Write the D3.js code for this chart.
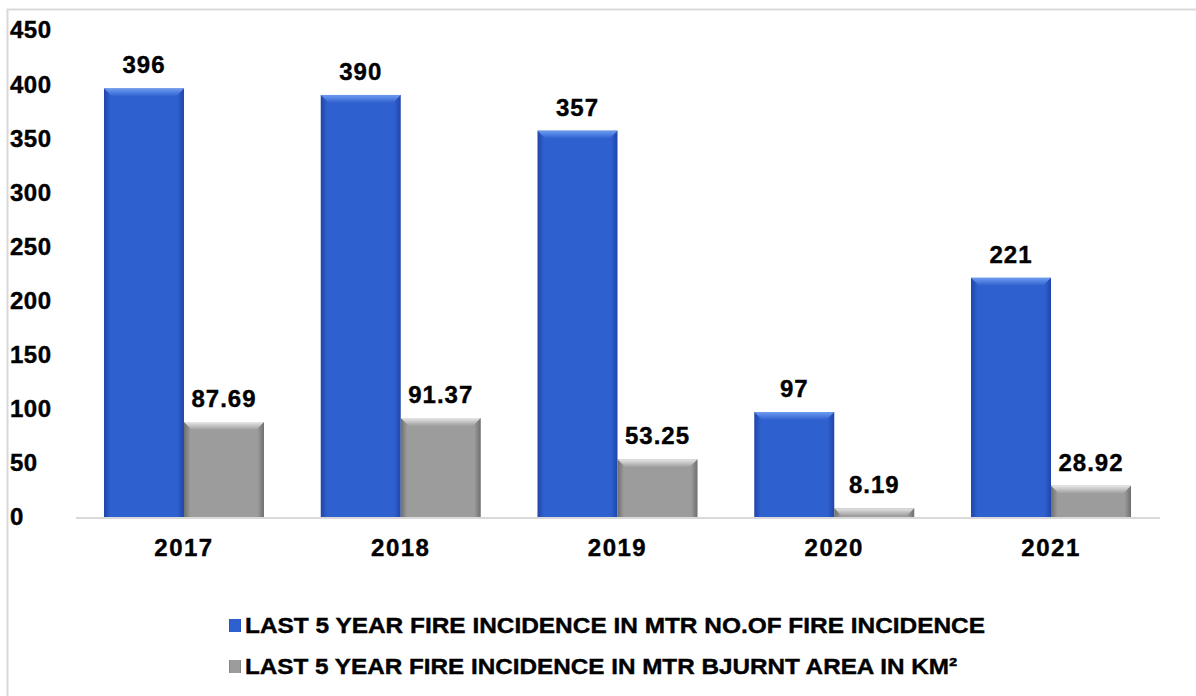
<!DOCTYPE html>
<html>
<head>
<meta charset="utf-8">
<script src="https://cdn.jsdelivr.net/npm/d3@7"></script>
<style>
  body { margin: 0; background: #fff; }
  text { font-family: "Liberation Sans", Arial, sans-serif; font-weight: bold; fill: #000; stroke: #000; stroke-width: 0.4px; }
</style>
</head>
<body>
<svg id="chart" width="1196" height="696"></svg>
<script>
var years = ["2017", "2018", "2019", "2020", "2021"];
var fireCount = [396, 390, 357, 97, 221];
var burntArea = [87.69, 91.37, 53.25, 8.19, 28.92];
var yTicks = [0, 50, 100, 150, 200, 250, 300, 350, 400, 450];
var seriesNames = ["LAST 5 YEAR FIRE INCIDENCE IN MTR NO.OF FIRE INCIDENCE",
                   "LAST 5 YEAR FIRE INCIDENCE IN MTR BJURNT AREA IN KM\u00B2"];
var seriesLabels = [fireCount.map(String), burntArea.map(function (d) { return d.toFixed(2); })];

var svg = d3.select("#chart");

// outer frame
svg.append("rect")
    .attr("x", 7.5).attr("y", 9.5)
    .attr("width", 1220).attr("height", 720)
    .attr("fill", "none").attr("stroke", "#d9d9d9").attr("stroke-width", 2);

var defs = svg.append("defs");
function bevel(id, mid, dark, light) {
    var g = defs.append("linearGradient").attr("id", id)
        .attr("x1", 0).attr("x2", 1).attr("y1", 0).attr("y2", 0);
    g.append("stop").attr("offset", "0%").attr("stop-color", dark);
    g.append("stop").attr("offset", "8%").attr("stop-color", mid);
    g.append("stop").attr("offset", "92%").attr("stop-color", mid);
    g.append("stop").attr("offset", "100%").attr("stop-color", dark);
    var t = defs.append("linearGradient").attr("id", id + "top")
        .attr("x1", 0).attr("x2", 0).attr("y1", 0).attr("y2", 1);
    t.append("stop").attr("offset", "0%").attr("stop-color", light);
    t.append("stop").attr("offset", "100%").attr("stop-color", mid);
}
bevel("blueG", "#2f60cf", "#1f45a8", "#6d9cf0");
bevel("grayG", "#9c9c9c", "#6e6e6e", "#e6e6e6");
var fills = ["blueG", "grayG"];

var x = d3.scaleBand().domain(years).range([75.6, 1159.4]).padding(0);
var y = d3.scaleLinear().domain([0, 450]).range([517, 30]);
var barW = 80;

// y tick labels
svg.append("g").selectAll("text")
    .data(yTicks).enter().append("text")
    .attr("x", 10).attr("y", function (d) { return y(d); })
    .attr("dy", "0.35em")
    .style("font-size", "24px")
    .style("letter-spacing", "0.5px")
    .text(function (d) { return d; });

// baseline
svg.append("line")
    .attr("x1", 76).attr("x2", 1160)
    .attr("y1", y(0) + 1).attr("y2", y(0) + 1)
    .attr("stroke", "#d9d9d9").attr("stroke-width", 2);

// x axis
var xAxis = svg.append("g")
    .attr("transform", "translate(0," + (y(0) + 1) + ")")
    .call(d3.axisBottom(x).tickSize(0).tickPadding(21));
xAxis.select(".domain").remove();
xAxis.selectAll("text")
    .style("font-size", "24px")
    .style("letter-spacing", "1.5px")
    .style("font-family", "Liberation Sans, Arial, sans-serif")
    .style("font-weight", "bold")
    .attr("fill", "#000").attr("stroke", "#000").attr("stroke-width", 0.4);

[fireCount, burntArea].forEach(function (vals, s) {
    var g = svg.append("g");
    var bx = function (d, i) { return x(years[i]) + x.bandwidth() / 2 - barW + s * barW; };
    g.selectAll("rect.bar").data(vals).enter().append("rect")
        .attr("class", "bar")
        .attr("x", bx)
        .attr("y", function (d) { return y(d); })
        .attr("width", barW)
        .attr("height", function (d) { return y(0) - y(d); })
        .attr("fill", "url(#" + fills[s] + ")");
    // top bevel
    g.selectAll("path.top").data(vals).enter().append("path")
        .attr("class", "top")
        .attr("d", function (d, i) {
            var x0 = bx(d, i), y0 = y(d), h = Math.min(8, y(0) - y(d));
            return "M" + x0 + "," + y0 + "H" + (x0 + barW) + "L" + (x0 + barW - h) + "," + (y0 + h) +
                "H" + (x0 + h) + "Z";
        })
        .attr("fill", "url(#" + fills[s] + "top)");
    g.selectAll("text").data(vals).enter().append("text")
        .attr("x", function (d, i) { return bx(d, i) + barW / 2; })
        .attr("y", function (d) { return y(d) - 15; })
        .attr("text-anchor", "middle")
        .style("font-size", "24px")
        .style("letter-spacing", "1px")
        .text(function (d, i) { return seriesLabels[s][i]; });
});

// legend
var legendY = [625, 666];
var legendW = [740, 712];
seriesNames.forEach(function (name, s) {
    svg.append("rect")
        .attr("x", 229).attr("y", legendY[s] - 6)
        .attr("width", 12).attr("height", 13)
        .attr("fill", "url(#" + fills[s] + ")");
    svg.append("text")
        .attr("x", 245).attr("y", legendY[s])
        .attr("dy", "0.35em")
        .attr("textLength", legendW[s])
        .attr("lengthAdjust", "spacingAndGlyphs")
        .style("font-size", "22px")
        .text(name);
});
</script>
</body>
</html>
